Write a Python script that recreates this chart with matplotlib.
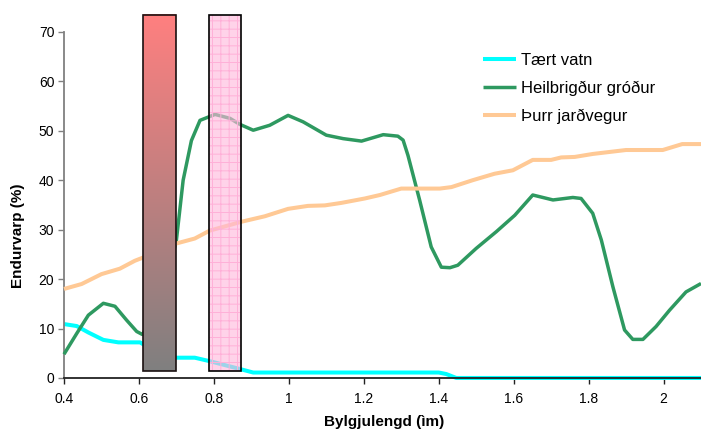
import matplotlib
matplotlib.use("Agg")
import matplotlib.pyplot as plt
import numpy as np
from matplotlib.patches import Rectangle

plt.rcParams["font.family"] = ["Liberation Sans", "DejaVu Sans"]
plt.rcParams["hatch.linewidth"] = 0.7

# Tært vatn
water_x = [0.40, 0.434, 0.465, 0.505, 0.545, 0.603, 0.65, 0.70, 0.749, 0.794,
           0.865, 0.905, 1.0, 1.40, 1.42, 1.447, 2.10]
water_y = [10.9, 10.5, 9.2, 7.7, 7.2, 7.2, 5.0, 4.1, 4.1, 3.3,
           1.9, 1.1, 1.1, 1.1, 0.8, 0.0, 0.0]

# Heilbrigður gróður
veg_x = [0.40, 0.434, 0.465, 0.505, 0.536, 0.567, 0.594, 0.609, 0.655, 0.70,
         0.718, 0.74, 0.763, 0.803, 0.843, 0.869, 0.905, 0.949, 0.998, 1.038,
         1.10, 1.145, 1.194, 1.252, 1.291, 1.305, 1.318, 1.349, 1.38, 1.407,
         1.43, 1.451, 1.50, 1.554, 1.603, 1.651, 1.705, 1.758, 1.78, 1.811,
         1.834, 1.865, 1.896, 1.918, 1.945, 1.98, 2.016, 2.06, 2.10]
veg_y = [4.8, 9.0, 12.7, 15.1, 14.5, 11.7, 9.4, 8.8, 14.0, 27.9,
         40.0, 48.0, 52.1, 53.3, 52.5, 51.3, 50.1, 51.1, 53.1, 51.8,
         49.1, 48.4, 47.9, 49.2, 48.9, 48.1, 45.0, 36.0, 26.5, 22.4,
         22.3, 22.8, 26.2, 29.6, 32.9, 37.0, 36.0, 36.5, 36.3, 33.3,
         27.9, 18.4, 9.7, 7.8, 7.8, 10.4, 13.7, 17.4, 19.1]

# Þurr jarðvegur
soil_x = [0.40, 0.447, 0.50, 0.549, 0.589, 0.65, 0.70, 0.749, 0.789, 0.874,
          0.936, 0.998, 1.051, 1.096, 1.14, 1.203, 1.243, 1.30, 1.403, 1.434,
          1.491, 1.549, 1.598, 1.651, 1.70, 1.727, 1.763, 1.811, 1.90, 1.998,
          2.05, 2.10]
soil_y = [18.0, 19.0, 21.0, 22.1, 23.7, 25.5, 27.2, 28.2, 29.8, 31.6,
          32.7, 34.2, 34.8, 34.9, 35.4, 36.3, 37.0, 38.3, 38.3, 38.6,
          40.0, 41.3, 42.0, 44.1, 44.1, 44.6, 44.7, 45.3, 46.1, 46.1,
          47.3, 47.3]

# bands (wavelength ranges) and vertical extent
band_red = (0.612, 0.70)
band_nir = (0.788, 0.873)
band_bottom, band_top = 1.5, 73.5

fig = plt.figure(figsize=(7.01, 4.30), dpi=100)
ax = fig.add_axes([0.0913, 0.121, 0.9087, 0.805])

line_kw = dict(clip_on=False, solid_joinstyle="round", solid_capstyle="butt")
ax.plot(water_x, water_y, color="#00FFFF", lw=2.9, label="Tært vatn", zorder=2, **line_kw)
ax.plot(veg_x, veg_y, color="#2E9960", lw=2.5, label="Heilbrigður gróður", zorder=3, **line_kw)
ax.plot(soil_x, soil_y, color="#FFC995", lw=2.9, label="Þurr jarðvegur", zorder=4, **line_kw)

# red band: gradient from salmon to grey
grad = np.linspace(0, 1, 256).reshape(-1, 1)
top_c = np.array([1.0, 0.5, 0.5])
bot_c = np.array([0.5, 0.5, 0.5])
img = top_c * (1 - grad[..., None]) + bot_c * grad[..., None]
img = img.reshape(256, 1, 3)
im = ax.imshow(img, extent=(band_red[0], band_red[1], band_bottom, band_top),
               aspect="auto", origin="upper", zorder=5)
im.set_clip_on(False)
ax.add_patch(Rectangle((band_red[0], band_bottom), band_red[1] - band_red[0],
                       band_top - band_bottom, facecolor="none", edgecolor="#1a1010",
                       lw=1.2, zorder=6, clip_on=False))

# NIR band: translucent pink with grid
ax.add_patch(Rectangle((band_nir[0], band_bottom), band_nir[1] - band_nir[0],
                       band_top - band_bottom, facecolor="#FFB8DC", alpha=0.62,
                       edgecolor="none", zorder=5, clip_on=False))
ax.add_patch(Rectangle((band_nir[0], band_bottom), band_nir[1] - band_nir[0],
                       band_top - band_bottom, facecolor="none", hatch="++",
                       edgecolor="#FFB0D8", lw=0, zorder=5.5, clip_on=False))
ax.add_patch(Rectangle((band_nir[0], band_bottom), band_nir[1] - band_nir[0],
                       band_top - band_bottom, facecolor="none", edgecolor="black",
                       lw=1.2, zorder=6, clip_on=False))

ax.set_xlim(0.4, 2.1)
ax.set_ylim(0, 70)
ax.set_xticks([0.4, 0.6, 0.8, 1.0, 1.2, 1.4, 1.6, 1.8, 2.0])
ax.set_xticklabels(["0.4", "0.6", "0.8", "1", "1.2", "1.4", "1.6", "1.8", "2"])
ax.set_yticks(range(0, 71, 10))

for s in ["top", "right"]:
    ax.spines[s].set_visible(False)
ax.spines["left"].set_color("#808080")
ax.spines["left"].set_linewidth(1.3)
ax.spines["bottom"].set_color("#222222")
ax.spines["bottom"].set_linewidth(1.3)
ax.tick_params(axis="y", length=4, width=1, color="#808080", labelsize=10, pad=3)
ax.tick_params(axis="x", length=4, width=1, color="#222222", labelsize=10, pad=6)

ax.set_xlabel("Bylgjulengd (ìm)", fontsize=11, fontweight="bold")
ax.set_ylabel("Endurvarp (%)", fontsize=11, fontweight="bold")
ax.xaxis.set_label_coords(0.502, -0.127)
ax.xaxis.label.set_va("center")
ax.yaxis.set_label_coords(-0.072, 0.41)
ax.yaxis.label.set_va("center")

ax.legend(loc="center left", bbox_to_anchor=(0.689, 0.795),
          bbox_transform=fig.transFigure, frameon=False, fontsize=12,
          borderpad=0, borderaxespad=0, handlelength=2.0, handletextpad=0.3,
          labelspacing=0.77)

fig.savefig("out.png", dpi=100)
